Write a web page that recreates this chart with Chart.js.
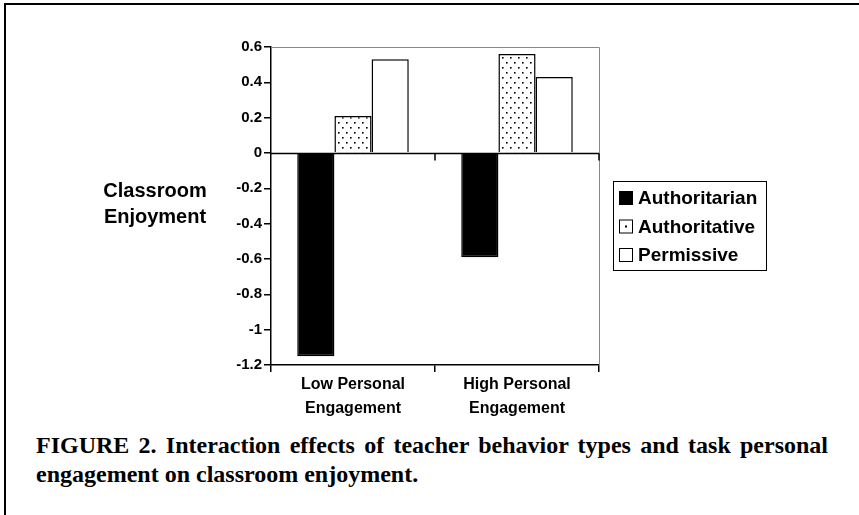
<!DOCTYPE html>
<html>
<head>
<meta charset="utf-8">
<script src="https://cdn.jsdelivr.net/npm/chart.js@4"></script>
<style>
  html, body { margin: 0; padding: 0; background: #fff; }
  body { width: 859px; height: 515px; position: relative; overflow: hidden; }
  #frame { position: absolute; left: 4px; top: 3px; right: -10px; bottom: -10px;
           border-top: 2px solid #000; border-left: 2px solid #000; }
  #wrap { position: absolute; left: 0; top: 0; width: 859px; height: 425px; }
  #caption { position: absolute; left: 36px; top: 431px; width: 792px;
             font-family: "Liberation Serif", "Times New Roman", serif; font-weight: bold;
             font-size: 24px; line-height: 29px; text-align: justify; color: #000; }
</style>
</head>
<body>
<div id="frame"></div>
<div id="wrap"><canvas id="bar-chart"></canvas></div>
<div id="caption">FIGURE 2. Interaction effects of teacher behavior types and task personal engagement on classroom enjoyment.</div>
<script>
//grouped bar chart

var engagement = [['Low Personal', 'Engagement'], ['High Personal', 'Engagement']];
var authoritarian = [-1.15, -0.59];
var authoritative = [0.21, 0.56];
var permissive = [0.53, 0.43];
var seriesNames = ['Authoritarian', 'Authoritative', 'Permissive'];
var yTitle = ['Classroom', 'Enjoyment'];

var font = '"Liberation Sans", Arial, Helvetica, sans-serif';

//dot pattern for the middle bars
function dots() {
    var c = document.createElement('canvas');
    c.width = 8;
    c.height = 10;
    var g = c.getContext('2d');
    g.fillStyle = '#fff';
    g.fillRect(0, 0, 8, 10);
    g.fillStyle = '#000';
    g.fillRect(2, 2, 1.6, 1.6);
    g.fillRect(6, 7, 1.6, 1.6);
    return g.createPattern(c, 'repeat');
}
var dotted = dots();

var extras = {
    id: 'extras',
    afterDraw: function (chart) {
        var c = chart.ctx, a = chart.chartArea;
        var x = chart.scales.x, y = chart.scales.y;
        c.save();

        //grey frame top and right
        c.strokeStyle = '#888';
        c.lineWidth = 1;
        c.beginPath();
        c.moveTo(a.left, a.top + 0.5);
        c.lineTo(a.right + 0.5, a.top + 0.5);
        c.lineTo(a.right + 0.5, a.bottom);
        c.stroke();

        //zero line with ticks
        var y0 = Math.round(y.getPixelForValue(0)) + 0.5;
        var half = (x.getPixelForTick(1) - x.getPixelForTick(0)) / 2;
        c.strokeStyle = '#000';
        c.lineWidth = 1.5;
        c.beginPath();
        c.moveTo(a.left, y0);
        c.lineTo(a.right, y0);
        for (var i = 0; i < engagement.length; i++) {
            var px = x.getPixelForTick(i) + half;
            c.moveTo(px, y0);
            c.lineTo(px, y0 + 7);
        }
        c.stroke();

        //axis title
        c.fillStyle = '#000';
        c.font = 'bold 20px ' + font;
        c.textAlign = 'center';
        c.textBaseline = 'middle';
        c.fillText(yTitle[0], 155, 191);
        c.fillText(yTitle[1], 155, 217);

        //legend
        c.font = 'bold 19px ' + font;
        c.lineWidth = 1;
        c.strokeRect(613.5, 181.5, 153, 89);
        c.textAlign = 'left';
        chart.data.datasets.forEach(function (ds, k) {
            var cy = 198 + k * 28.5;
            c.fillStyle = k === 0 ? '#000' : '#fff';
            c.fillRect(619.5, cy - 6.5, 13, 13);
            c.strokeRect(619.5, cy - 6.5, 13, 13);
            if (k === 1) {
                c.fillStyle = '#000';
                c.fillRect(625, cy - 1, 2, 2);
            }
            c.fillStyle = '#000';
            c.fillText(ds.label, 638, cy + 1);
        });
        c.restore();
    }
};

var ctx = document.getElementById('bar-chart');

var myChart = new Chart(ctx, {
    type: 'bar',
    data: {
        labels: engagement,
        datasets: [
        {
            label: seriesNames[0],
            data: authoritarian,
            backgroundColor: '#000',
            borderColor: '#000',
            borderWidth: 1.5
        },
        {
            label: seriesNames[1],
            data: authoritative,
            backgroundColor: dotted,
            borderColor: '#000',
            borderWidth: 1.5
        },
        {
            label: seriesNames[2],
            data: permissive,
            backgroundColor: '#fff',
            borderColor: '#000',
            borderWidth: 1.5
        }]
    },
    options: {
        responsive: true,
        maintainAspectRatio: false,
        animation: false,
        layout: {
            padding: { left: 211, right: 260, top: 47, bottom: 5 }
        },
        datasets: {
            bar: { barPercentage: 1, categoryPercentage: 0.68 }
        },
        plugins: {
            legend: { display: false },
            tooltip: { enabled: false }
        },
        scales: {
            x: {
                afterFit: function (s) { s.height = 55; },
                border: { color: '#000', width: 1.5 },
                grid: { drawOnChartArea: false, color: '#000', lineWidth: 1.5, tickLength: 7 },
                ticks: {
                    color: '#000',
                    padding: 1,
                    font: { family: font, weight: 'bold', size: 16, lineHeight: 1.5 }
                }
            },
            y: {
                min: -1.2,
                max: 0.6,
                afterFit: function (s) { s.width = 60; },
                border: { color: '#000', width: 1.5 },
                grid: { drawOnChartArea: false, color: '#000', lineWidth: 1.5, tickLength: 7 },
                ticks: {
                    stepSize: 0.2,
                    color: '#000',
                    padding: 2,
                    font: { family: font, weight: 'bold', size: 15 },
                    callback: function (v) { return String(Number(v.toFixed(1))); }
                }
            }
        }
    },
    plugins: [extras]
});
</script>
</body>
</html>
